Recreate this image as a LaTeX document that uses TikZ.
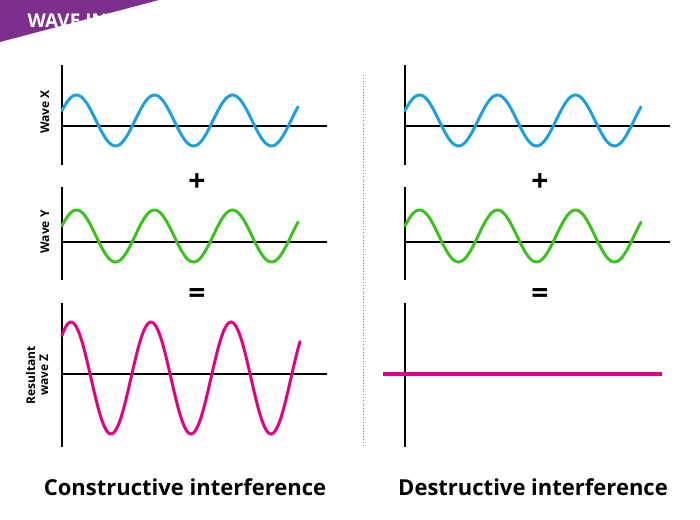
\documentclass[tikz,border=0pt]{standalone}
\usepackage{fontspec}
\setmainfont{Open Sans}
\definecolor{banner}{HTML}{7E2E8C}
\definecolor{wblue}{HTML}{1BA1E2}
\definecolor{wgreen}{HTML}{3CC21E}
\definecolor{wmag}{HTML}{E5007E}
\begin{document}
\begin{tikzpicture}[x=1pt,y=-1pt,
  axis/.style={line width=2pt,black},
  wave/.style={line width=3pt,line cap=round},
  lbl/.style={font=\bfseries\fontsize{12}{13}\selectfont,rotate=90,align=center},
  op/.style={font=\bfseries\fontsize{30}{30}\selectfont},
  captext/.style={font=\bfseries\fontsize{22}{24}\selectfont}]
\useasboundingbox (0,0) rectangle (700,519);
\fill[banner] (0,0) -- (318,0) arc[start angle=90,end angle=-90,radius=21] -- (0,42) -- cycle;
\node[text=white,font=\bfseries\fontsize{19}{20}\selectfont,anchor=west] (title) at (24,21) {WAVE INTERFERENCE};
\draw[gray,dotted,line width=0.8pt] (363,75) -- (363,447);
\foreach \dx in {0,343}{
  \draw[axis] (62+\dx,65) -- (62+\dx,165);
  \draw[axis] (62+\dx,126) -- (327+\dx,126);
  \draw[wave,wblue] plot[domain=62:298,samples=120] ({\x+\dx},{120.5-25.5*sin(4.615*(\x-57))});
  \draw[axis] (62+\dx,187) -- (62+\dx,280);
  \draw[axis] (62+\dx,242) -- (327+\dx,242);
  \draw[wave,wgreen] plot[domain=62:298,samples=120] ({\x+\dx},{236-26*sin(4.615*(\x-57))});
  \draw[axis] (62+\dx,303) -- (62+\dx,447);
}
\draw[axis] (62,374) -- (327,374);
\draw[wave,wmag] plot[domain=62:300,samples=150] (\x,{378-56*sin(4.5*(\x-51))});
\draw[line width=4pt,wmag] (383,374) -- (662,374);
\node[lbl] (wx) at (45,112) {Wave X};
\node[lbl] (wy) at (45,232) {Wave Y};
\node[lbl] (wz) at (37,375) {Resultant\\wave Z};
\node[op] (p1) at (197,183) {+};
\node[op] (p2) at (540,183) {+};
\node[op] (e1) at (197,296) {=};
\node[op] (e2) at (540,296) {=};
\node[captext] (c1) at (185,487) {Constructive interference};
\node[captext] (c2) at (533,487) {Destructive interference};
\end{tikzpicture}
\end{document}
